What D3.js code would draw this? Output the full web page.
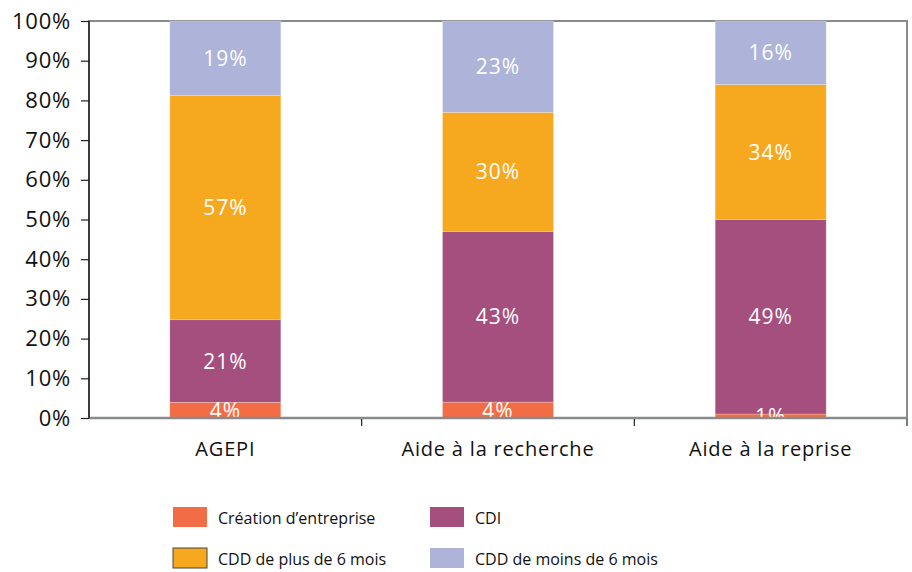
<!DOCTYPE html>
<html>
<head>
<meta charset="utf-8">
<script src="https://cdn.jsdelivr.net/npm/d3@7"></script>
<style>
  body { margin: 0; background: #fff; }
  svg text { font-family: "Open Sans", "Noto Sans", sans-serif; }
</style>
</head>
<body>
<svg id="chart" width="912" height="572"></svg>
<script>
var categories = ["AGEPI", "Aide à la recherche", "Aide à la reprise"];
var series = ["Création d’entreprise", "CDI", "CDD de plus de 6 mois", "CDD de moins de 6 mois"];
var creation = [4, 4, 1];
var cdi = [21, 43, 49];
var cddPlus = [57, 30, 34];
var cddMoins = [19, 23, 16];
var colors = ["#f26d45", "#a44f7e", "#f6a81f", "#adb3d9"];
var yTicks = [0, 0.1, 0.2, 0.3, 0.4, 0.5, 0.6, 0.7, 0.8, 0.9, 1];

var svg = d3.select("#chart");
var margin = {left: 89, right: 5, top: 21, bottom: 154};
var width = 912 - margin.left - margin.right,
    height = 572 - margin.top - margin.bottom;

var rows = categories.map(function(c, i) {
  return {cat: c, s0: creation[i], s1: cdi[i], s2: cddPlus[i], s3: cddMoins[i]};
});

var stack = d3.stack()
  .keys(["s0", "s1", "s2", "s3"])
  .offset(d3.stackOffsetExpand);
var layers = stack(rows);

var x = d3.scaleBand().domain(categories).range([0, width]).paddingInner(0).paddingOuter(0);
var barW = 111;
var y = d3.scaleLinear().domain([0, 1]).range([height, 0]);

var g = svg.append("g").attr("transform", "translate(" + margin.left + "," + margin.top + ")");

g.append("defs").append("clipPath").attr("id", "plotclip")
  .append("rect").attr("x", 0).attr("y", 0).attr("width", width).attr("height", height);

// frame
g.append("rect")
  .attr("x", 0).attr("y", 0).attr("width", width).attr("height", height)
  .attr("fill", "none").attr("stroke", "#888b8d").attr("stroke-width", 2);

var layerG = g.selectAll("g.layer").data(layers).enter()
  .append("g").attr("class", "layer")
  .attr("fill", function(d, i) { return colors[i]; });

layerG.selectAll("rect").data(function(d) { return d; }).enter()
  .append("rect")
  .attr("x", function(d) { return x(d.data.cat) + (x.bandwidth() - barW) / 2; })
  .attr("width", barW)
  .attr("y", function(d) { return y(d[1]); })
  .attr("height", function(d) { return y(d[0]) - y(d[1]); })
  .attr("stroke", "#ffffff")
  .attr("stroke-opacity", 0.4)
  .attr("stroke-width", 0.6);

// value labels
var labelG = g.append("g").attr("clip-path", "url(#plotclip)");
layers.forEach(function(layer, i) {
  labelG.selectAll("text.l" + i).data(layer).enter()
    .append("text")
    .attr("x", function(d) { return x(d.data.cat) + x.bandwidth() / 2; })
    .attr("y", function(d) { return (y(d[0]) + y(d[1])) / 2; })
    .attr("dy", "0.36em")
    .attr("text-anchor", "middle")
    .attr("fill", "#ffffff")
    .style("font-size", "21px")
    .style("letter-spacing", "1px")
    .text(function(d) { return d.data["s" + i] + "%"; });
});

// bottom axis line
g.append("line")
  .attr("x1", 0).attr("x2", width).attr("y1", height).attr("y2", height)
  .attr("stroke", "#888b8d").attr("stroke-width", 2.5);

// category ticks
var bounds = d3.range(categories.length + 1).map(function(i) { return i * x.step(); });
g.selectAll("line.ctick").data(bounds.slice(1)).enter()
  .append("line")
  .attr("x1", function(d) { return d; }).attr("x2", function(d) { return d; })
  .attr("y1", height + 1).attr("y2", height + 8)
  .attr("stroke", "#222").attr("stroke-width", 1.2);

g.selectAll("text.cat").data(categories).enter()
  .append("text")
  .attr("x", function(d) { return x(d) + x.bandwidth() / 2; })
  .attr("y", height + 38)
  .attr("text-anchor", "middle")
  .attr("fill", "#111")
  .style("font-size", "20px")
  .style("letter-spacing", "0.8px")
  .text(function(d) { return d; });

// y axis
var yAxis = d3.axisLeft(y)
  .tickValues(yTicks)
  .tickFormat(d3.format(".0%"))
  .tickSize(8)
  .tickPadding(10);
var ya = g.append("g").call(yAxis);
ya.select(".domain").attr("stroke", "#222").attr("stroke-width", 1.5).attr("d", "M0," + height + "V0");
ya.selectAll(".tick line").attr("stroke", "#222").attr("stroke-width", 1.2);
ya.selectAll(".tick text")
  .attr("fill", "#111")
  .style("font-size", "22px")
  .style("letter-spacing", "0.8px")
  .style("font-family", "'Open Sans', sans-serif");

// legend
var legendItems = series.map(function(s, i) {
  return {name: s, color: colors[i], col: i % 2, row: Math.floor(i / 2)};
});
var lg = svg.append("g");
var item = lg.selectAll("g.item").data(legendItems).enter()
  .append("g")
  .attr("transform", function(d) {
    return "translate(" + (173 + d.col * 257) + "," + (507 + d.row * 41) + ")";
  });
item.append("rect")
  .attr("width", 34).attr("height", 20)
  .attr("fill", function(d) { return d.color; })
  .attr("stroke", function(d, i) { return i === 2 ? "#444" : "none"; })
  .attr("stroke-width", 1);
item.append("text")
  .attr("x", 45).attr("y", 17)
  .attr("fill", "#111")
  .style("font-size", "16px")
  .text(function(d) { return d.name; });
</script>
</body>
</html>
